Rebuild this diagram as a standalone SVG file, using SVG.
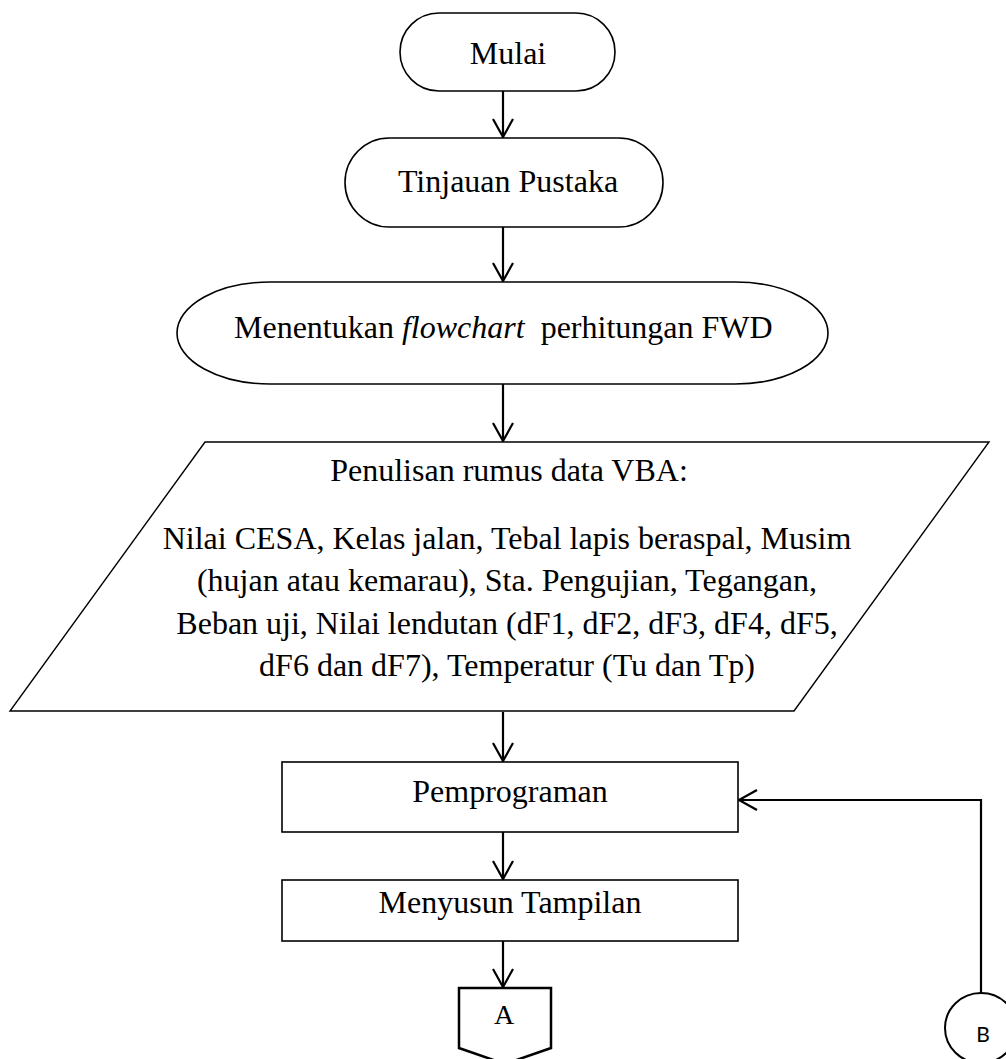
<svg xmlns="http://www.w3.org/2000/svg" width="1006" height="1059" viewBox="0 0 1006 1059">
<defs>
<style>
.s{fill:#fff;stroke:#000;stroke-width:1.6}
.t{font-family:"Liberation Serif","Times New Roman",serif;font-size:32px;fill:#000;text-anchor:middle}
.c{fill:none;stroke:#000;stroke-width:2.2}
</style>
<marker id="ah" viewBox="0 0 20 22" refX="19" refY="11" markerWidth="20" markerHeight="22" markerUnits="userSpaceOnUse" orient="auto">
<path d="M1,1 L19,11 L1,21" fill="none" stroke="#000" stroke-width="2.2"/>
</marker>
</defs>
<rect width="1006" height="1059" fill="#fff"/>
<g id="connectors">
<line class="c" x1="503" y1="91" x2="503" y2="137" marker-end="url(#ah)"/>
<line class="c" x1="503" y1="227" x2="503" y2="281" marker-end="url(#ah)"/>
<line class="c" x1="503" y1="384" x2="503" y2="441" marker-end="url(#ah)"/>
<line class="c" x1="503" y1="712" x2="503" y2="761" marker-end="url(#ah)"/>
<line class="c" x1="503" y1="832" x2="503" y2="879" marker-end="url(#ah)"/>
<line class="c" x1="503" y1="941" x2="503" y2="987" marker-end="url(#ah)"/>
<polyline class="c" points="981,993 981,800 739,800" marker-end="url(#ah)"/>
</g>
<g id="mulai">
<rect class="s" x="400" y="13" width="215" height="78" rx="39" ry="39"/>
<text class="t" x="508" y="64">Mulai</text>
</g>
<g id="tinjauan">
<rect class="s" x="345" y="138" width="318" height="89" rx="44.5" ry="44.5"/>
<text class="t" x="508" y="192">Tinjauan Pustaka</text>
</g>
<g id="menentukan">
<rect class="s" x="177" y="282" width="651" height="102" rx="93" ry="51"/>
<text class="t" x="234" y="338" style="text-anchor:start;white-space:pre">Menentukan <tspan font-style="italic">flowchart</tspan>  perhitungan FWD</text>
</g>
<g id="input">
<polygon class="s" points="205,442 989,442 794,711 10,711" style="stroke-width:1.4"/>
<text class="t" x="509" y="481">Penulisan rumus data VBA:</text>
<text class="t" x="507" y="549">Nilai CESA, Kelas jalan, Tebal lapis beraspal, Musim</text>
<text class="t" x="507" y="591">(hujan atau kemarau), Sta. Pengujian, Tegangan,</text>
<text class="t" x="507" y="634">Beban uji, Nilai lendutan (dF1, dF2, dF3, dF4, dF5,</text>
<text class="t" x="507" y="676">dF6 dan dF7), Temperatur (Tu dan Tp)</text>
</g>
<g id="pemprograman">
<rect class="s" x="282" y="762" width="456" height="70"/>
<text class="t" x="510" y="802">Pemprograman</text>
</g>
<g id="menyusun">
<rect class="s" x="282" y="880" width="456" height="61"/>
<text class="t" x="510" y="913">Menyusun Tampilan</text>
</g>
<g id="A">
<polygon points="459,988 551,988 551,1048 505,1064 459,1048" fill="#fff" stroke="#000" stroke-width="2.5"/>
<text class="t" x="504" y="1024" style="font-size:28px">A</text>
</g>
<g id="B">
<ellipse cx="981" cy="1028" rx="36" ry="35" fill="#fff" stroke="#000" stroke-width="2"/>
<text x="983" y="1042" style="font-family:Lato,'Open Sans',sans-serif;font-size:21px;text-anchor:middle;fill:#000">B</text>
</g>
</svg>
